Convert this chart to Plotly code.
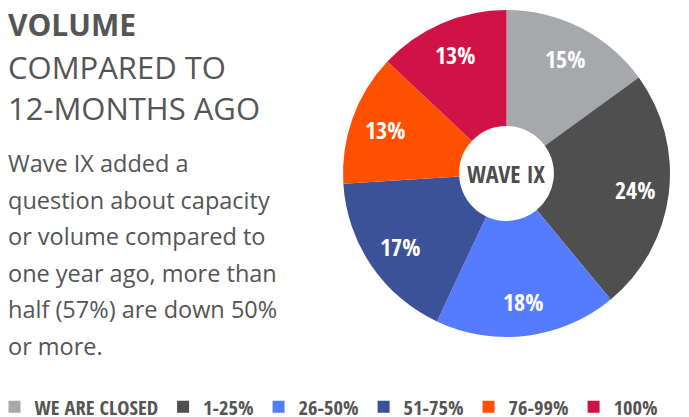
import math
import plotly.graph_objects as go

categories = ["WE ARE CLOSED", "1-25%", "26-50%", "51-75%", "76-99%", "100%"]
shares = [15, 24, 18, 17, 13, 13]
colors = ["#a7a8ab", "#4f4f4f", "#557cff", "#3c5298", "#ff5000", "#d01346"]

title_bold = "VOLUME"
title_lines = ["COMPARED TO", "12-MONTHS AGO"]
body_lines = [
    "Wave IX added a",
    "question about capacity",
    "or volume compared to",
    "one year ago, more than",
    "half (57%) are down 50%",
    "or more.",
]

W, H = 689, 417
B = 30            # bottom margin reserved for the legend
PH = H - B        # plot area height
TXT = "#555555"
COND = "Open Sans Condensed, Open Sans, sans-serif"


def px2x(px):
    return px / W


def px2y(py):
    return (PH - py) / PH


# pie placement (pixels)
cx, cy, R = 506.5, 173.5, 163.5

fig = go.Figure()
fig.add_trace(go.Pie(
    labels=categories,
    values=shares,
    marker=dict(colors=colors, line=dict(width=0)),
    sort=False,
    direction="clockwise",
    rotation=0,
    hole=0.29,
    textinfo="none",
    domain=dict(x=[px2x(cx - R), px2x(cx + R)], y=[px2y(cy + R), px2y(cy - R)]),
    hoverinfo="label+percent",
))

annotations = []
# slice labels at mid-angle of each slice
total = sum(shares)
cum = 0
for v in shares:
    ang = 2 * math.pi * (cum + v / 2) / total
    cum += v
    lx = cx + 0.79 * R * math.sin(ang)
    ly = cy - 0.79 * R * math.cos(ang)
    annotations.append(dict(
        text=f"{v}%", x=px2x(lx), y=px2y(ly), xref="paper", yref="paper",
        xanchor="center", yanchor="middle", showarrow=False,
        font=dict(family=COND, weight="bold", size=24, color="white"),
    ))

annotations.append(dict(
    text="WAVE IX", x=px2x(cx), y=px2y(cy), xref="paper", yref="paper",
    xanchor="center", yanchor="middle", showarrow=False,
    font=dict(family=COND, weight="bold", size=24, color="#4d4d4d"),
))
annotations.append(dict(
    text="<b>" + title_bold + "</b>", x=px2x(6), y=px2y(25), xref="paper", yref="paper",
    xanchor="left", yanchor="middle", showarrow=False,
    font=dict(family="Open Sans", size=30, color=TXT),
))
for i, line in enumerate(title_lines):
    annotations.append(dict(
        text=line, x=px2x(6), y=px2y(67 + 41 * i), xref="paper", yref="paper",
        xanchor="left", yanchor="middle", showarrow=False,
        font=dict(family="Open Sans", size=31, color=TXT),
    ))
for i, line in enumerate(body_lines):
    annotations.append(dict(
        text=line, x=px2x(6), y=px2y(163 + 36.6 * i), xref="paper", yref="paper",
        xanchor="left", yanchor="middle", showarrow=False,
        font=dict(family="Open Sans", size=23.5, color=TXT),
    ))

fig.update_layout(
    width=W,
    height=H,
    margin=dict(l=0, r=0, t=0, b=B, autoexpand=False),
    paper_bgcolor="white",
    plot_bgcolor="white",
    annotations=annotations,
    showlegend=True,
    legend=dict(
        orientation="h",
        x=-0.008, y=0.0, xanchor="left", yanchor="top",
        font=dict(family=COND, weight="bold", size=20.5, color=TXT),
        itemwidth=30,
        traceorder="normal",
    ),
)

fig.write_html("out.html", config={"displayModeBar": False},
               post_script="document.body.style.margin='0';")
